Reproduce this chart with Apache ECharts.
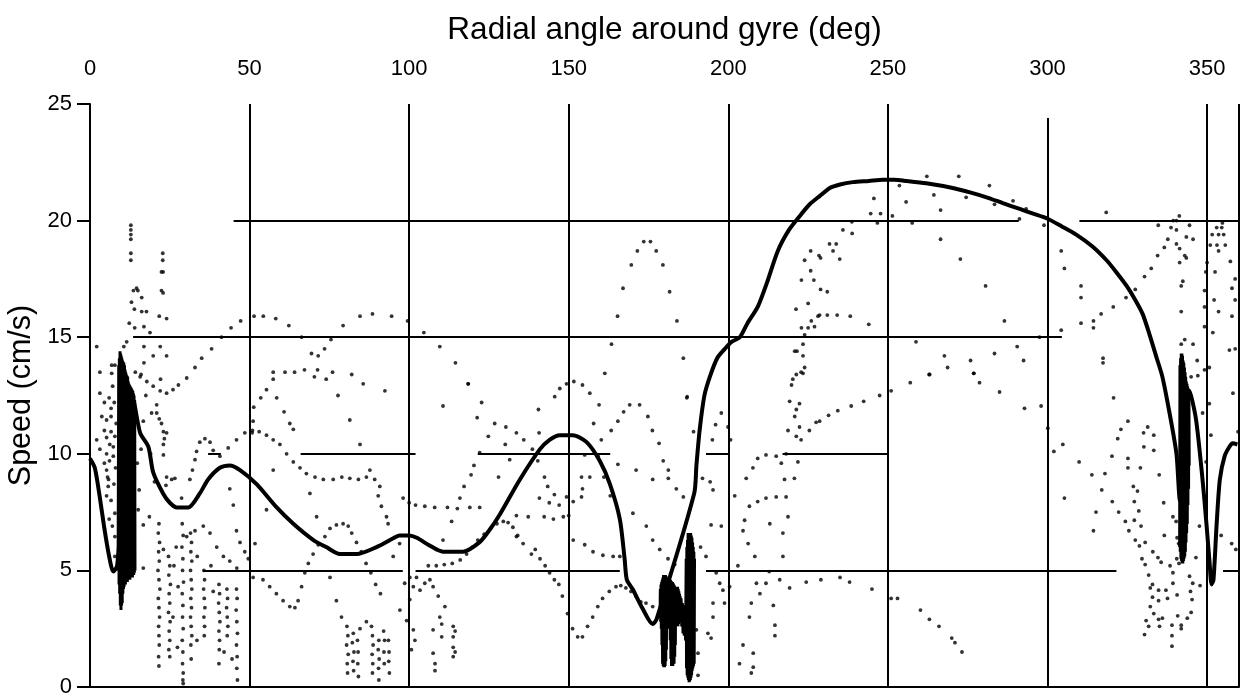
<!DOCTYPE html>
<html>
<head>
<meta charset="utf-8">
<title>Speed around gyre</title>
<script src="https://cdn.jsdelivr.net/npm/echarts@6/dist/echarts.min.js"></script>
<style>
  html, body { margin: 0; padding: 0; background: #fff; }
  #chart { width: 1245px; height: 697px; }
</style>
</head>
<body>
<div id="chart"></div>
<script>
// Tick values for both axes
const angleTicks = [0, 50, 100, 150, 200, 250, 300, 350];
const speedTicks = [0, 5, 10, 15, 20, 25];

// Mean speed along the gyre (thick line), [angle deg, speed cm/s]
const meanSpeed = [
  [0, 9.8], [1.5, 9.4], [3, 8.2], [4.5, 6.8], [6, 5.6], [7.3, 4.95], [8.5, 5.2],
  [13.6, 12.3], [15.7, 10.9], [18.3, 10.3], [19.8, 9.2], [22.9, 8.3], [25, 7.9],
  [27.2, 7.7], [30.8, 7.7], [34.4, 8.3], [37, 8.9], [40.7, 9.4], [43.8, 9.5],
  [47, 9.3], [52.2, 8.7], [58.5, 7.7], [63.7, 7.0], [70, 6.3], [74, 6.0],
  [78.3, 5.7], [83.6, 5.7], [89.8, 6.0], [94, 6.3], [97, 6.5], [100, 6.5],
  [102.4, 6.4], [106, 6.1], [110.6, 5.8], [116.9, 5.8], [122, 6.2], [125, 6.7],
  [128.4, 7.4], [134.7, 8.9], [141, 10.2], [144, 10.6], [147.2, 10.8], [151.3, 10.8],
  [155.6, 10.5], [159.7, 9.7], [162.9, 8.7], [166, 7.2], [167.5, 5.5], [168.2, 4.6],
  [170, 4.2], [173, 3.4], [176.3, 2.7], [177.5, 2.9],
  [189.3, 8.3], [190, 9.5], [191, 11], [192.5, 12.5], [194.2, 13.3], [196.5, 14.1],
  [198.9, 14.5], [201, 14.8], [203.6, 15.0], [206, 15.6], [209.2, 16.3], [212, 17.3],
  [215.5, 18.7], [219, 19.6], [222.4, 20.2], [225.5, 20.7], [228.6, 21.05], [231.8, 21.4],
  [235, 21.55], [239, 21.65], [244, 21.7], [248.4, 21.75], [252, 21.75], [255.8, 21.7],
  [262, 21.6], [270.3, 21.4], [276, 21.2], [280.9, 21.0], [286, 20.75], [291.3, 20.5],
  [295.5, 20.3], [299.7, 20.1], [304.5, 19.75], [309, 19.4], [314, 18.9], [318.5, 18.3],
  [321.5, 17.8], [324.8, 17.2], [327.5, 16.6], [329.8, 16.0], [332, 15.1], [334, 14.2],
  [336, 13.3], [338.3, 11.7], [340.4, 10.0], [341.5, 8.0],
  [344.5, 12.7], [346.5, 11.5], [348.5, 9.0], [349.8, 7.0], [350.8, 5.3], [351.4, 4.4],
  [352, 4.6], [353, 7.0], [354, 8.9], [355.5, 9.9], [357, 10.3], [358, 10.45], [359.5, 10.4]
];

// Dense bursts drawn as solid black bands
const burstWest = [
  [8.8, 5.0], [9.0, 13.8], [9.1, 4.4], [9.2, 14.1], [9.3, 4.0], [9.4, 14.4], [9.5, 3.5],
  [9.6, 14.3], [9.7, 3.3], [9.8, 14.2], [9.9, 3.5], [10.0, 14.1], [10.1, 3.6], [10.2, 14.0],
  [10.3, 4.0], [10.4, 13.95], [10.5, 4.2], [10.6, 13.9], [10.7, 4.3], [10.8, 13.8],
  [10.9, 4.4], [11.0, 13.6], [11.1, 4.4], [11.2, 13.5], [11.3, 4.5], [11.4, 13.4],
  [11.5, 4.5], [11.6, 13.35], [11.7, 4.5], [11.8, 13.3], [11.9, 4.6], [12.0, 13.1],
  [12.1, 4.6], [12.2, 13.0], [12.3, 4.6], [12.4, 12.95], [12.5, 4.6], [12.6, 12.9],
  [12.7, 4.7], [12.8, 12.85], [12.9, 4.7], [13.0, 12.8], [13.1, 4.7], [13.2, 12.75],
  [13.3, 4.7], [13.4, 12.7], [13.5, 4.8], [13.6, 12.6], [13.7, 4.8], [13.8, 12.5],
  [13.9, 4.9], [14.0, 12.3], [14.1, 5.0]
];
const burstSouth = [
  [178.6, 3.0], [178.7, 4.2], [178.8, 2.8], [178.9, 4.4], [179.0, 2.5], [179.1, 4.5],
  [179.2, 1.8], [179.3, 4.6], [179.4, 1.0], [179.5, 4.7], [179.6, 0.9], [179.7, 4.8],
  [179.8, 0.85], [179.9, 4.8], [180.0, 0.85], [180.1, 4.8], [180.2, 0.9], [180.3, 4.8],
  [180.4, 1.1], [180.5, 4.75], [180.6, 1.6], [180.7, 4.7], [180.8, 2.5], [180.9, 4.7],
  [181.0, 2.6], [181.1, 4.65], [181.2, 2.6], [181.3, 4.6], [181.4, 2.6], [181.5, 4.6],
  [181.6, 2.5], [181.7, 4.6], [181.8, 2.0], [181.9, 4.6], [182.0, 1.2], [182.1, 4.55],
  [182.2, 0.9], [182.3, 4.5], [182.4, 0.9], [182.5, 4.5], [182.6, 0.9], [182.7, 4.45],
  [182.8, 1.0], [182.9, 4.4], [183.0, 1.0], [183.1, 4.35], [183.2, 1.3], [183.3, 4.3],
  [183.4, 1.8], [183.5, 4.25], [183.6, 2.6], [183.7, 4.2], [183.8, 2.7], [183.9, 4.25],
  [184.0, 2.7], [184.1, 4.3], [184.2, 2.6], [184.3, 4.2], [184.4, 2.7], [184.5, 4.1],
  [184.6, 2.8], [184.7, 4.0], [184.8, 2.9], [184.9, 3.9], [185.0, 3.0], [185.2, 3.8],
  [185.4, 2.6], [185.6, 3.6], [185.8, 2.3], [186.0, 3.5], [186.2, 2.2], [186.4, 3.4],
  [186.6, 2.0], [186.8, 5.5], [186.9, 0.8], [187.0, 6.0], [187.1, 0.5], [187.2, 6.3],
  [187.3, 0.4], [187.4, 6.6], [187.5, 0.3], [187.6, 6.6], [187.7, 0.2], [187.8, 6.5],
  [187.9, 0.25], [188.0, 6.6], [188.1, 0.3], [188.2, 6.6], [188.3, 0.4], [188.4, 6.5],
  [188.5, 0.5], [188.6, 6.4], [188.7, 0.7], [188.8, 6.2], [188.9, 0.8], [189.0, 6.0],
  [189.1, 0.9], [189.2, 5.8], [189.3, 1.0], [189.4, 5.5]
];
const burstEast = [
  [341.4, 6.0], [341.5, 13.8], [341.6, 5.8], [341.7, 14.1], [341.8, 5.5], [341.9, 14.3],
  [342.0, 5.4], [342.1, 14.3], [342.2, 5.3], [342.3, 14.2], [342.4, 5.3], [342.5, 14.0],
  [342.6, 5.4], [342.7, 13.9], [342.8, 5.5], [342.9, 13.7], [343.0, 5.6], [343.1, 13.5],
  [343.2, 5.8], [343.3, 13.3], [343.4, 6.2], [343.5, 13.1], [343.6, 6.6], [343.7, 13.0],
  [343.8, 7.0], [343.9, 12.9], [344.0, 7.8], [344.1, 12.8], [344.2, 8.5], [344.3, 12.7],
  [344.4, 9.5]
];

// Individual drifter speeds (dots), [angle deg, speed cm/s]
const dotsWest = [
  [2.1, 14.6], [3.1, 13.5], [3.1, 12.6], [3.7, 11.6], [2.1, 10.6], [3.1, 10.2], [5.2, 11.45],
  [5.2, 10.7], [5.2, 10.0], [5.2, 9.3], [5.7, 8.6], [5.2, 8.2], [6.6, 11.95], [6.6, 11.6],
  [6.6, 10.95], [7.3, 10.3], [7.3, 9.9], [6.6, 8.0], [7.8, 7.45], [7.8, 6.45], [7.8, 5.6],
  [6.1, 9.7], [5.5, 9.0], [7.1, 12.9], [6.8, 13.45], [7.8, 10.75], [6.8, 13.8], [7.8, 13.8],
  [10.6, 14.6], [11.5, 14.8], [4.5, 12.2], [4.5, 11.0], [4.5, 9.6], [6.0, 12.4], [6.0, 7.2],
  [7.0, 6.9], [6.2, 10.4], [5.8, 8.9], [7.5, 8.7], [7.6, 12.2], [8.2, 11.3], [8.0, 9.4]
];
const dotsNorth = [
  [12.8, 19.8], [12.8, 19.6], [12.8, 19.4], [12.8, 19.2], [12.8, 18.6], [12.8, 18.3],
  [13.6, 17.0], [14.6, 17.1], [16.2, 16.7], [13.0, 16.5], [13.9, 16.2], [16.2, 16.1],
  [17.7, 16.1], [12.3, 15.6], [16.9, 15.45], [18.8, 15.2], [16.9, 14.6], [16.9, 13.9],
  [19.8, 14.2], [24.0, 14.2], [22.0, 14.6], [22.8, 18.6], [22.8, 18.3], [22.4, 17.8],
  [22.9, 17.8], [22.4, 17.0], [22.9, 16.9], [21.7, 15.9], [24.0, 15.8], [16.0, 13.4],
  [22.1, 13.2], [15.0, 17.0], [14.0, 15.4]
];
const dotsNearBurst = [
  [16.7, 11.4], [19.3, 11.75], [20.9, 11.75], [21.7, 11.5], [22.4, 11.3], [23.0, 10.95],
  [24.0, 10.9], [23.3, 10.65], [23.0, 10.4], [23.0, 9.95], [20.9, 12.1], [15.4, 8.45],
  [15.1, 7.6], [16.7, 6.95], [16.7, 5.1], [18.6, 7.3], [17.5, 12.5], [19.0, 10.0],
  [20.2, 8.8], [24.0, 9.0], [25.6, 8.9], [26.6, 8.95], [23.8, 8.65], [14.8, 9.6], [16.0, 10.2]
];
const arcUpper = [
  [14.2, 13.5], [15.7, 13.3], [17.8, 13.1], [19.8, 12.9], [22.0, 12.7], [24.0, 12.6],
  [26.0, 12.75], [27.7, 12.95], [30.3, 13.25], [32.9, 13.7], [35.0, 14.1], [38.1, 14.5],
  [41.2, 15.0], [44.2, 15.4], [47.2, 15.7], [51.4, 15.9], [54.3, 15.9], [58.2, 15.8],
  [62.3, 15.5], [66.3, 15.0], [69.4, 14.3], [71.5, 14.2], [73.5, 14.5], [75.5, 14.9],
  [79.3, 15.5], [84.6, 15.9], [88.5, 16.0], [94.5, 15.9], [99.5, 15.7], [104.6, 15.2],
  [109.6, 14.6], [114.5, 13.9], [118.5, 13.0], [122.7, 12.2]
];
const arcMiddle = [
  [28.7, 8.1], [31.3, 8.9], [32.1, 9.3], [32.9, 9.75], [33.4, 10.1], [34.4, 10.5],
  [36.0, 10.65], [37.6, 10.5], [38.6, 10.15], [40.7, 9.9], [43.3, 10.25], [45.9, 10.6],
  [48.5, 10.9], [50.9, 11.0], [53.0, 10.95], [55.3, 10.8], [57.4, 10.6], [59.5, 10.4],
  [61.6, 10.0], [63.7, 9.65], [65.8, 9.4], [67.8, 9.15], [70.5, 9.0], [73.1, 8.9],
  [76.2, 8.9], [78.9, 9.0], [81.4, 8.95], [84.1, 8.9], [86.6, 9.0], [87.7, 9.3],
  [89.2, 8.9], [90.8, 8.6], [90.3, 8.2], [91.3, 7.75], [92.9, 7.3], [93.4, 7.0],
  [43.8, 8.5], [44.9, 7.8], [45.9, 6.7], [47.0, 6.2], [48.5, 5.8], [49.6, 5.5], [51.7, 6.15]
];
const arcThirteen = [
  [51.3, 12.0], [51.1, 11.4], [50.8, 10.9], [53.5, 12.4], [55.3, 12.75], [57.4, 13.2],
  [61.1, 13.5], [64.1, 13.5], [67.2, 13.6], [70.3, 13.3], [71.3, 13.6], [76.0, 13.5],
  [82.0, 13.4], [58.5, 12.4], [60.8, 11.8], [62.6, 11.3], [63.7, 11.05], [77.7, 12.5],
  [85.6, 13.0], [92.4, 12.7], [81.4, 11.45], [84.6, 10.4], [68.9, 8.3], [71.0, 7.3],
  [57.4, 9.3], [55.3, 7.6], [57.4, 13.5], [74.0, 13.2]
];
const columnsSouthWest = [
  [21.6, 7.0], [21.4, 6.6], [21.8, 6.2], [21.5, 5.8], [21.7, 5.4], [21.3, 5.0], [21.6, 4.6],
  [21.9, 4.2], [21.4, 3.8], [21.6, 3.4], [21.8, 3.0], [21.5, 2.6], [21.6, 2.2], [21.7, 1.8],
  [21.5, 1.3], [21.6, 0.9],
  [24.6, 5.6], [25.0, 5.2], [24.7, 4.8], [25.2, 4.4], [24.8, 4.0], [25.0, 3.6], [24.6, 3.2],
  [25.1, 2.8], [24.8, 2.4], [25.0, 2.0], [24.7, 1.6], [25.0, 1.3],
  [28.9, 7.0], [29.2, 6.5], [28.8, 6.0], [29.1, 5.5], [29.0, 5.0], [29.3, 4.5], [28.9, 4.0],
  [29.1, 3.5], [29.0, 3.0], [29.2, 2.5], [28.9, 2.0], [29.1, 1.5], [29.0, 1.0], [29.2, 0.6],
  [29.1, 0.3], [29.2, 0.15],
  [31.5, 6.6], [31.8, 6.2], [31.6, 5.8], [31.9, 5.4], [31.5, 5.0], [31.7, 4.6], [31.9, 4.2],
  [31.6, 3.8], [31.8, 3.4], [31.5, 3.0], [31.7, 2.6], [31.9, 2.2], [31.6, 1.8], [31.7, 1.2],
  [35.7, 5.0], [35.9, 4.6], [35.6, 4.2], [35.8, 3.8], [36.0, 3.4], [35.7, 3.0], [35.9, 2.6],
  [35.8, 2.2],
  [40.4, 4.4], [40.6, 4.0], [40.3, 3.6], [40.5, 3.2], [40.7, 2.8], [40.4, 2.4], [40.6, 2.0],
  [40.5, 1.6], [40.4, 1.0],
  [42.9, 4.2], [43.1, 3.8], [42.8, 3.4], [43.0, 3.0], [43.2, 2.6], [43.0, 2.2],
  [45.9, 4.2], [46.1, 3.8], [45.8, 3.3], [46.0, 2.8], [46.2, 2.3], [45.9, 1.8], [46.1, 1.3],
  [46.0, 0.8], [46.2, 0.3],
  [30.3, 6.45], [32.9, 6.7], [35.5, 6.9], [37.6, 6.6], [39.7, 6.0], [41.8, 5.6], [43.8, 5.4],
  [46.0, 5.1], [27.0, 6.0], [26.3, 5.2], [27.6, 4.3], [33.6, 5.6], [37.9, 5.2], [38.6, 4.1],
  [23.0, 5.9], [26.0, 3.0], [33.5, 2.0], [27.4, 1.7], [44.5, 1.2], [42.0, 1.5]
];
const arcSeven = [
  [51.1, 4.7], [54.2, 4.6], [56.3, 4.3], [58.4, 4.0], [60.5, 3.7], [62.6, 3.45], [64.2, 3.4],
  [65.2, 3.7], [66.3, 4.3], [67.3, 4.9], [68.4, 5.3], [69.9, 5.7], [71.5, 6.1], [73.6, 6.45],
  [75.2, 6.8], [77.2, 6.95], [79.3, 7.0], [80.9, 6.9], [82.0, 6.6], [83.5, 6.2], [85.0, 5.8],
  [86.5, 5.3], [88.0, 4.9], [89.5, 4.4], [91.0, 4.0],
  [75.2, 4.7], [77.2, 3.7], [78.8, 3.0], [95.0, 5.6], [97.0, 6.15], [98.6, 4.45], [100.2, 4.7]
];
const columnsSouth = [
  [80.5, 2.6], [80.8, 2.2], [80.4, 1.8], [80.9, 1.4], [80.6, 1.0], [80.7, 0.6],
  [82.5, 2.3], [82.2, 1.9], [82.7, 1.5], [82.4, 1.1], [82.6, 0.7],
  [83.8, 2.0], [84.0, 1.5], [83.9, 1.0], [84.1, 0.45],
  [84.6, 2.5], [86.6, 2.8], [88.2, 2.6],
  [88.5, 2.2], [88.7, 1.8], [88.4, 1.4], [88.6, 1.0], [88.5, 0.6],
  [90.5, 2.0], [90.3, 1.6], [90.6, 1.2], [90.4, 0.8], [90.5, 0.3],
  [92.0, 2.4], [92.3, 2.0], [92.1, 1.5], [92.2, 1.0],
  [93.5, 2.0], [93.7, 1.5], [93.6, 1.1], [93.8, 0.6],
  [97.1, 3.3], [100.2, 3.75], [101.3, 4.3], [102.3, 4.7], [103.4, 4.15], [104.9, 4.45],
  [106.5, 4.6], [107.5, 4.3], [109.1, 3.9], [109.6, 3.0], [110.2, 2.7], [100.7, 1.6],
  [101.3, 2.45], [99.2, 2.85], [101.8, 2.0], [107.5, 2.45], [107.5, 1.45], [108.1, 1.0],
  [108.1, 0.7], [113.8, 2.6], [113.8, 2.15], [113.8, 1.7], [113.8, 1.3], [110.2, 2.15],
  [111.2, 3.45], [114.4, 2.4], [114.4, 1.5]
];
const dotsCentre = [
  [118.5, 13.0], [110.6, 12.05], [121.3, 11.55], [130.1, 10.4], [140.5, 11.9], [140.7, 10.9],
  [145.6, 12.45], [147.2, 12.8], [149.3, 13.0], [151.6, 13.1], [154.3, 12.95], [156.6, 12.6],
  [159.5, 12.1], [157.8, 11.3], [160.2, 10.6], [163.3, 11.0], [165.4, 11.4], [167.2, 11.8],
  [169.1, 12.1], [172.2, 12.1], [174.8, 11.6], [176.2, 11.0], [178.3, 10.45], [179.6, 9.7],
  [181.2, 9.3], [181.2, 8.95], [183.7, 8.5], [185.9, 8.15], [187.1, 12.45],
  [110.6, 6.3], [108.5, 5.9], [113.3, 7.1], [115.9, 8.1], [117.2, 8.6], [119.4, 9.1],
  [120.3, 9.5], [122.1, 10.05], [124.8, 10.75], [126.8, 11.3], [130.3, 11.15], [133.6, 10.9],
  [135.9, 10.6], [138.6, 10.2], [140.3, 9.7], [142.4, 9.0], [143.4, 8.6], [145.5, 8.25],
  [147.0, 7.8],
  [98.1, 8.1], [100.0, 7.9], [102.0, 7.8], [104.9, 7.75], [108.0, 7.7], [112.0, 7.7],
  [115.1, 7.65], [119.0, 7.7], [122.1, 7.7], [133.6, 7.35], [137.3, 7.3], [142.3, 7.3],
  [145.2, 7.2], [148.3, 7.3], [150.0, 7.35],
  [165.4, 9.55], [171.1, 9.3], [176.3, 8.9], [170.1, 7.45], [174.3, 6.9], [176.3, 6.3],
  [178.5, 5.9], [181.1, 5.5], [183.2, 5.25], [151.4, 6.3], [155.0, 6.1], [157.6, 5.8],
  [160.7, 5.65], [163.9, 5.6], [166.0, 5.6], [154.0, 9.0], [156.6, 9.0], [154.3, 8.5],
  [154.0, 8.15], [155.0, 9.95], [159.2, 9.9], [149.3, 8.15], [151.4, 7.95], [140.8, 8.1],
  [143.9, 7.9], [133.6, 6.45], [135.7, 6.15], [138.3, 5.7], [128.0, 9.0], [131.5, 9.75],
  [161.0, 9.0], [163.0, 8.2]
];
const dipCentre = [
  [106.0, 5.2], [108.5, 5.2], [111.0, 5.25], [113.5, 5.3], [116.0, 5.45], [118.0, 5.7],
  [119.8, 6.0], [121.5, 6.3], [123.5, 6.55], [125.5, 6.8], [127.5, 7.0], [129.5, 7.1],
  [131.0, 7.05], [132.5, 6.85], [134.0, 6.5], [139.5, 5.9], [141.0, 5.5], [142.6, 5.2],
  [144.0, 4.9], [145.5, 4.6], [146.9, 4.4], [148.0, 3.9], [149.6, 3.15], [151.2, 2.5],
  [152.8, 2.15], [154.3, 2.15], [155.9, 2.6], [157.5, 3.0], [159.1, 3.45], [160.6, 3.8],
  [162.7, 4.1], [164.8, 4.3], [166.3, 4.35], [167.9, 4.25], [169.5, 4.1], [171.0, 3.9],
  [172.6, 3.65], [174.2, 3.6], [176.3, 3.45], [178.4, 3.15]
];
const arcNineteen = [
  [161.3, 13.45], [163.4, 14.7], [165.3, 15.9], [167.0, 17.1], [169.6, 18.1], [171.5, 18.7],
  [173.5, 19.1], [175.6, 19.1], [177.4, 18.7], [179.5, 18.1], [181.6, 16.95], [183.9, 15.7],
  [185.9, 14.1], [187.0, 12.4]
];
const dotsRise = [
  [189.1, 10.95], [195.0, 10.6], [196.0, 11.25], [197.8, 11.75], [199.9, 11.15], [200.7, 10.6],
  [205.6, 8.95], [207.7, 9.4], [209.2, 9.8], [211.8, 9.95], [215.0, 9.9], [216.6, 9.6],
  [218.1, 10.0], [217.6, 8.9], [220.7, 8.95], [221.8, 9.65], [221.3, 10.75], [222.8, 10.6],
  [222.3, 11.15], [220.8, 11.6], [221.3, 11.9], [222.3, 12.15], [219.2, 12.25], [218.7, 11.0],
  [218.1, 8.15], [215.0, 8.15], [211.8, 8.1], [209.2, 7.95], [206.6, 7.75], [205.1, 7.15],
  [204.6, 6.7], [206.2, 6.15], [208.3, 5.6], [208.8, 4.45], [209.9, 4.0], [211.8, 4.45],
  [212.8, 4.95], [216.1, 4.6], [219.2, 4.25], [217.1, 5.6], [217.1, 6.6], [218.7, 7.3],
  [224.4, 4.5], [227.5, 11.35], [225.4, 11.0], [214.1, 3.5], [214.6, 2.65], [214.6, 2.2],
  [207.2, 3.6], [206.6, 3.0], [204.6, 1.8], [203.5, 1.0], [207.8, 1.45], [207.8, 0.85],
  [207.2, 0.6], [191.9, 8.95], [194.3, 8.8], [195.2, 8.45], [194.6, 6.95], [197.8, 6.9],
  [191.3, 6.0], [193.0, 5.6], [196.2, 4.9], [197.3, 4.45], [198.3, 4.15], [200.4, 4.3],
  [198.8, 3.6], [195.2, 3.6], [195.2, 3.0], [193.6, 2.3], [194.6, 2.1], [190.5, 1.45],
  [190.5, 0.5], [190.0, 2.45], [222.8, 13.5], [221.3, 13.4], [219.8, 12.95],
  [225.8, 18.7], [223.9, 18.3], [228.4, 18.5], [225.8, 17.85], [222.9, 17.45], [226.8, 17.45],
  [225.0, 16.45], [221.2, 16.2], [226.0, 15.7], [222.9, 15.4], [225.0, 15.4], [227.0, 15.45],
  [228.1, 15.9], [223.9, 15.1], [223.4, 14.7], [220.8, 14.4], [221.5, 14.4], [223.4, 14.2],
  [223.9, 13.7], [223.4, 13.45], [220.2, 13.2], [202.0, 8.2], [213.0, 7.0], [203.0, 5.2]
];
const dotsPlateau = [
  [262.2, 21.9], [272.2, 21.9], [281.8, 21.5], [289.2, 20.85], [293.3, 20.5], [291.2, 20.07],
  [283.4, 20.7], [274.5, 21.0], [266.5, 20.45], [264.4, 21.1], [255.7, 20.8], [253.6, 21.5],
  [251.4, 20.2], [247.7, 20.3], [244.6, 20.3], [245.6, 20.95], [246.7, 19.9], [257.6, 19.9],
  [238.7, 19.95], [235.9, 19.6], [238.8, 19.45], [231.7, 19.0], [233.8, 19.0], [232.8, 18.7],
  [234.9, 18.35], [228.9, 18.4], [266.5, 19.2], [272.7, 18.35], [228.9, 17.05], [231.0, 16.95],
  [280.6, 17.2], [228.6, 15.95], [231.0, 15.95], [234.1, 15.95], [238.2, 15.9], [244.0, 15.55],
  [286.5, 15.7], [297.5, 15.0], [304.3, 15.3], [258.8, 14.8], [267.7, 14.2], [268.7, 13.7],
  [263.1, 13.4], [275.9, 14.0], [276.9, 13.45], [283.4, 14.3], [290.5, 14.6], [292.5, 14.0],
  [298.9, 19.8], [304.3, 18.7], [305.3, 17.95], [310.5, 17.2], [310.5, 16.7], [310.5, 15.6],
  [314.4, 15.7], [314.4, 15.4], [318.4, 20.35], [317.4, 14.1], [317.4, 13.9]
];
const dotsEastHigh = [
  [316.8, 16.0], [320.6, 16.3], [324.6, 16.7], [327.5, 17.05], [330.4, 17.6], [332.5, 17.95],
  [334.5, 18.5], [336.6, 18.85], [337.7, 19.2], [334.7, 19.8], [338.7, 19.7], [341.3, 20.2],
  [339.4, 20.0], [340.4, 20.0], [340.4, 19.6], [344.5, 19.8], [345.6, 19.2], [343.5, 19.3],
  [340.4, 19.0], [341.4, 18.8], [343.0, 18.5], [341.4, 18.2], [343.5, 18.4], [342.4, 17.4],
  [341.9, 17.2], [341.9, 16.1], [341.9, 14.7], [345.6, 14.7], [343.0, 14.9], [346.9, 14.0],
  [342.4, 13.5], [345.0, 13.3],
  [350.0, 18.2], [351.0, 18.95], [351.6, 19.4], [353.0, 19.7], [354.6, 19.7], [353.6, 19.4],
  [355.2, 19.4], [355.7, 18.95], [353.1, 18.95], [353.6, 18.7], [357.3, 18.25], [349.6, 17.8],
  [352.5, 17.8], [349.2, 17.0], [352.2, 16.6], [349.2, 16.3], [353.6, 16.1], [357.8, 15.9],
  [358.8, 17.5], [357.8, 17.1], [358.8, 16.6], [349.2, 15.45], [351.8, 15.2], [357.0, 14.45],
  [358.8, 14.5], [350.7, 13.7], [349.2, 13.6], [354.8, 19.9]
];
const dotsEastLow = [
  [228.6, 11.4], [231.4, 11.65], [234.3, 11.85], [238.5, 12.05], [242.4, 12.25], [247.4, 12.5],
  [251.0, 12.7], [257.0, 13.05], [262.9, 13.4], [276.9, 13.45], [278.7, 13.05], [284.98, 12.65],
  [292.8, 11.95], [298.0, 12.05], [300.1, 11.1], [302.0, 10.1], [304.8, 10.4], [305.3, 8.1],
  [309.9, 9.65], [313.9, 9.1], [318.0, 9.15], [317.0, 8.45], [320.3, 7.95], [315.2, 7.5],
  [314.4, 6.7], [322.3, 7.5], [324.4, 7.1], [325.5, 6.7], [327.2, 7.15], [328.6, 7.55],
  [327.2, 7.95], [326.9, 8.6], [328.2, 8.4], [325.2, 9.4], [329.1, 9.4], [325.2, 9.8],
  [320.2, 9.9], [335.0, 9.1], [336.4, 7.9], [320.7, 12.4], [325.2, 11.4], [323.0, 11.05],
  [322.0, 10.65], [330.1, 10.9], [331.4, 11.15], [333.3, 10.8], [330.2, 10.3], [333.3, 10.15],
  [329.3, 6.9], [327.5, 6.3], [328.8, 6.05], [330.6, 6.2], [329.6, 5.5], [330.6, 5.25],
  [331.7, 4.8], [332.9, 4.4], [334.8, 4.15], [337.1, 4.15], [339.3, 4.45], [333.0, 5.8],
  [334.6, 5.55], [335.6, 5.35], [338.4, 5.2], [340.5, 5.5], [339.3, 4.9], [341.2, 5.3],
  [332.2, 4.25], [332.9, 3.85], [334.8, 3.7], [337.6, 3.8], [340.6, 3.95], [332.2, 3.45],
  [333.3, 3.15], [334.8, 2.9], [336.0, 2.95], [330.9, 2.85], [331.7, 2.6], [330.4, 2.25],
  [335.1, 2.6], [339.0, 2.65], [339.0, 2.2], [339.0, 1.75], [340.8, 3.05], [341.9, 2.65],
  [341.9, 2.5], [343.8, 2.95], [345.0, 3.2], [345.3, 3.75], [344.8, 4.1], [345.5, 4.45],
  [347.8, 4.35], [344.5, 4.75], [336.6, 6.5], [339.3, 7.3], [340.3, 7.1], [340.6, 6.4],
  [341.1, 6.15], [346.5, 5.55], [347.6, 6.9], [358.1, 12.6], [359.7, 10.95], [348.6, 11.75],
  [350.7, 12.15], [351.2, 10.8], [349.7, 9.65], [357.7, 6.15], [359.0, 5.9], [354.4, 6.5],
  [347.1, 13.35],
  [229.0, 4.6], [235.0, 4.7], [238.0, 4.5], [245.0, 4.2], [251.0, 3.8], [253.0, 3.8],
  [260.2, 3.3], [263.0, 2.9], [266.0, 2.6], [270.0, 2.1], [271.0, 1.9], [273.2, 1.5]
];

// Chart furniture: partial rules across the frame, [speed, from angle, to angle]
const hRules = [
  [20, 45, 291], [20, 310, 360], [15, 13.5, 304.5], [10, 37, 41], [10, 66, 102],
  [10, 121.5, 163], [10, 193, 200], [10, 217, 250], [5, 35.5, 98], [5, 102, 166],
  [5, 193, 321.6], [5, 355, 360], [0, 33.5, 322], [0, 329, 360]
];
// [angle, from speed, to speed]
const vRules = [
  [50, 0, 25], [100, 0, 25], [150, 0, 25], [200, 0, 25], [250, 0, 25],
  [300, 0, 24.4], [350, 0, 25], [360, 0, 25]
];

const ruleData = hRules.map(r => [{ coord: [r[1], r[0]] }, { coord: [r[2], r[0]] }])
  .concat(vRules.map(r => [{ coord: [r[0], r[1]] }, { coord: [r[0], r[2]] }]));

const allDots = [].concat(dotsWest, dotsNorth, dotsNearBurst, arcUpper, arcMiddle,
  arcThirteen, columnsSouthWest, arcSeven, columnsSouth, dotsCentre, dipCentre,
  arcNineteen, dotsRise, dotsPlateau, dotsEastHigh, dotsEastLow);

const FONT = "'Liberation Sans', Arial, Helvetica, sans-serif";
const chart = echarts.init(document.getElementById('chart'), null, { renderer: 'canvas' });

const burstStyle = { color: '#000', width: 3, join: 'miter' };

chart.setOption({
  animation: false,
  backgroundColor: '#fff',
  grid: {
    left: 90, right: 6, top: 104, bottom: 10,
    containLabel: false, outerBoundsMode: 'none'
  },
  xAxis: {
    type: 'value', position: 'top', min: 0, max: 360,
    name: 'Radial angle around gyre (deg)', nameLocation: 'middle', nameGap: 58,
    nameTextStyle: { fontFamily: FONT, fontSize: 31.5, color: '#000' },
    axisLine: { show: true, lineStyle: { color: '#000', width: 2 } },
    axisTick: { show: true, inside: false, length: 16, customValues: angleTicks,
      lineStyle: { color: '#000', width: 2 } },
    axisLabel: { customValues: angleTicks, fontFamily: FONT, fontSize: 22, color: '#000', margin: 24 },
    splitLine: { show: false }
  },
  yAxis: {
    type: 'value', min: 0, max: 25, interval: 5,
    name: 'Speed (cm/s)', nameLocation: 'middle', nameGap: 45,
    nameTextStyle: { fontFamily: FONT, fontSize: 30.5, color: '#000' },
    axisLine: { show: true, lineStyle: { color: '#000', width: 2 } },
    axisTick: { show: true, inside: false, length: 13, customValues: speedTicks,
      lineStyle: { color: '#000', width: 2 } },
    axisLabel: { customValues: speedTicks, fontFamily: FONT, fontSize: 22, color: '#000', margin: 18 },
    splitLine: { show: false }
  },
  series: [
    {
      type: 'line', data: [], silent: true,
      markLine: {
        silent: true, symbol: 'none', animation: false,
        label: { show: false },
        lineStyle: { color: '#000', width: 2, type: 'solid' },
        emphasis: { disabled: true },
        data: ruleData
      }
    },
    {
      type: 'scatter', data: allDots, symbol: 'circle', symbolSize: 3.8,
      itemStyle: { color: '#000' }, silent: true, z: 3
    },
    { type: 'line', data: burstWest, showSymbol: false, silent: true, z: 4, lineStyle: burstStyle },
    { type: 'line', data: burstSouth, showSymbol: false, silent: true, z: 4, lineStyle: burstStyle },
    { type: 'line', data: burstEast, showSymbol: false, silent: true, z: 4, lineStyle: burstStyle },
    {
      type: 'line', data: meanSpeed, showSymbol: false, silent: true, z: 5, smooth: 0.25,
      lineStyle: { color: '#000', width: 4 }
    }
  ]
});
</script>
</body>
</html>
